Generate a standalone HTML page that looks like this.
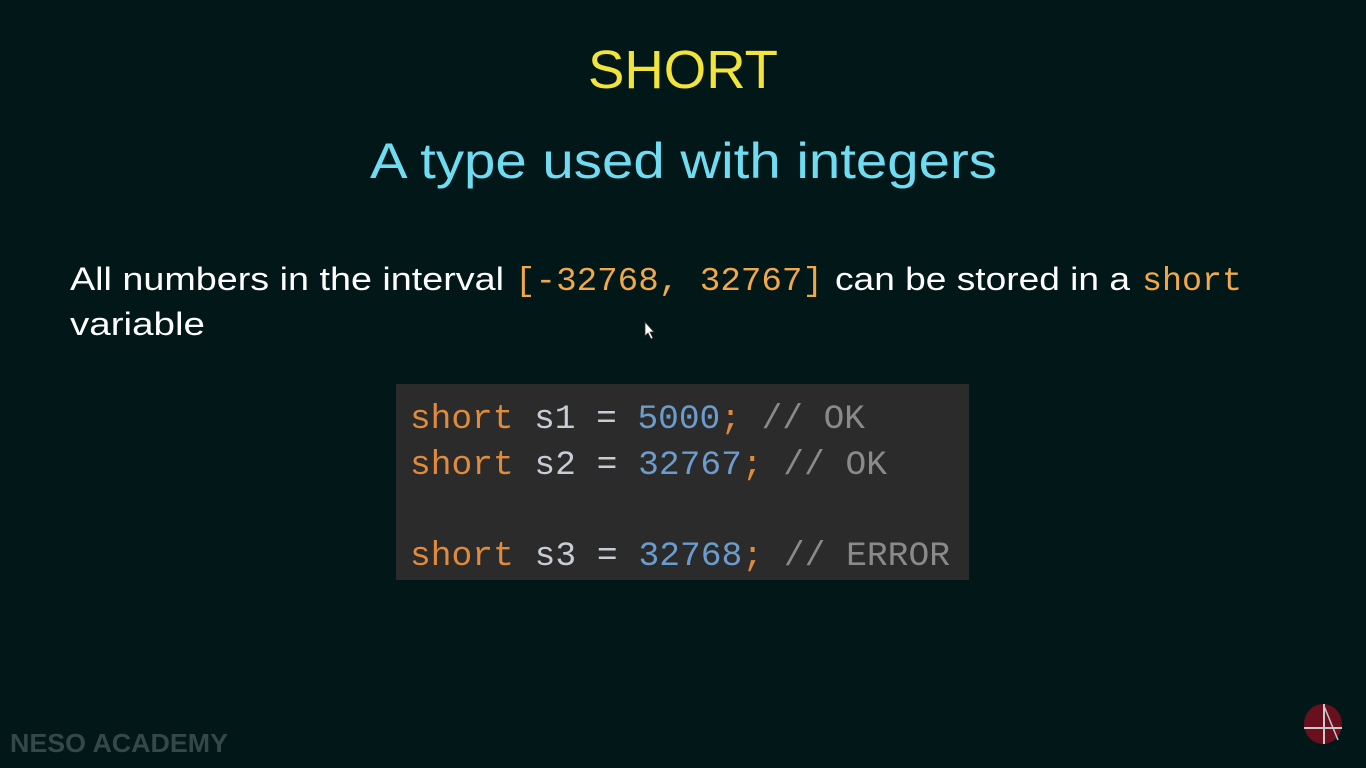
<!DOCTYPE html>
<html><head><meta charset="utf-8"><style>
html,body{margin:0;padding:0;background:#021718;}
svg{display:block}
</style></head><body>
<svg width="1366" height="768" viewBox="0 0 1366 768" xmlns="http://www.w3.org/2000/svg">
<rect width="1366" height="768" fill="#021718"/>
<text x="588" y="88" font-family="Liberation Sans, sans-serif" font-size="54" fill="#f2e43a" textLength="190" lengthAdjust="spacingAndGlyphs">SHORT</text>
<text x="370" y="178" font-family="Liberation Sans, sans-serif" font-size="50" fill="#70dcf2" textLength="627" lengthAdjust="spacingAndGlyphs">A type used with integers</text>
<g font-size="32">
<text x="70" y="290" font-family="Liberation Sans, sans-serif" fill="#ffffff" textLength="434" lengthAdjust="spacingAndGlyphs">All numbers in the interval</text>
<text x="515" y="290" font-family="Liberation Mono, monospace" fill="#f0a848" font-size="33" textLength="308" lengthAdjust="spacingAndGlyphs">[-32768, 32767]</text>
<text x="835" y="290" font-family="Liberation Sans, sans-serif" fill="#ffffff" textLength="295" lengthAdjust="spacingAndGlyphs">can be stored in a</text>
<text x="1142" y="290" font-family="Liberation Mono, monospace" fill="#f0a848" font-size="33" textLength="100" lengthAdjust="spacingAndGlyphs">short</text>
<text x="70" y="335" font-family="Liberation Sans, sans-serif" fill="#ffffff" textLength="135" lengthAdjust="spacingAndGlyphs">variable</text>
</g>
<rect x="396" y="384" width="573" height="196" fill="#2b2b2b"/>
<g font-family="Liberation Mono, monospace" font-size="34">
<text x="410" y="428" textLength="455" lengthAdjust="spacingAndGlyphs"><tspan fill="#e08a3c">short</tspan><tspan fill="#c8ccd4"> s1 = </tspan><tspan fill="#6b9ccc">5000</tspan><tspan fill="#e08a3c">;</tspan><tspan fill="#8a8a8a"> // OK</tspan></text>
<text x="410" y="474" textLength="477" lengthAdjust="spacingAndGlyphs"><tspan fill="#e08a3c">short</tspan><tspan fill="#c8ccd4"> s2 = </tspan><tspan fill="#6b9ccc">32767</tspan><tspan fill="#e08a3c">;</tspan><tspan fill="#8a8a8a"> // OK</tspan></text>
<text x="410" y="565" textLength="540" lengthAdjust="spacingAndGlyphs"><tspan fill="#e08a3c">short</tspan><tspan fill="#c8ccd4"> s3 = </tspan><tspan fill="#6b9ccc">32768</tspan><tspan fill="#e08a3c">;</tspan><tspan fill="#8a8a8a"> // ERROR</tspan></text>
</g>
<text x="10" y="752" font-family="Liberation Sans, sans-serif" font-weight="bold" font-size="26" fill="#34474a" textLength="218" lengthAdjust="spacingAndGlyphs">NESO ACADEMY</text>
<ellipse cx="1323" cy="724" rx="19" ry="20" fill="#6a0f1e"/>
<line x1="1304" y1="728" x2="1342" y2="728" stroke="#c8c8c8" stroke-width="2"/>
<line x1="1324" y1="704" x2="1324" y2="744" stroke="#c8c8c8" stroke-width="2"/>
<line x1="1324" y1="706" x2="1338" y2="740" stroke="#c8c8c8" stroke-width="1.5"/>
<path d="M645 322 l0 14 l3 -3 l3 6 l2 -1 l-3 -6 l4 0 z" fill="#ffffff" stroke="#333" stroke-width="0.8"/>
</svg>
</body></html>
